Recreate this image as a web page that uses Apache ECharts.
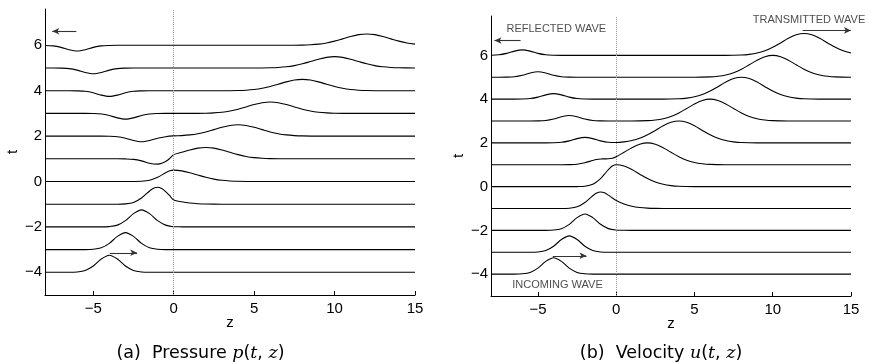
<!DOCTYPE html>
<html><head><meta charset="utf-8">
<script src="https://cdn.jsdelivr.net/npm/echarts@6/dist/echarts.min.js"></script>
<style>html,body{margin:0;padding:0;background:#fff}#c{width:869px;height:362px}</style>
</head><body><div id="c"></div>
<script>
// time levels of the stacked curves (baseline of each curve)
const times = [-4, -3, -2, -1, 0, 1, 2, 3, 4, 5, 6];
const xTicks = [-5, 0, 5, 10, 15];
const yTicks = [-4, -2, 0, 2, 4, 6];

// pressure p(t,z): [z, offset above the baseline t], one list per time level
const pressureCurves = [
  [[-8,0],[-6.5,0],[-6,0.014],[-5.5,0.079],[-5,0.276],[-4.5,0.584],[-4,0.75],[-3.5,0.584],[-3,0.276],[-2.5,0.079],[-2,0.014],[-1.5,0],[15,0]],
  [[-8,0],[-5.5,0],[-5,0.014],[-4.5,0.079],[-4,0.276],[-3.5,0.584],[-3,0.75],[-2.5,0.584],[-2,0.276],[-1.5,0.079],[-1,0.014],[-0.5,0],[15,0]],
  [[-8,0],[-4.5,0],[-4,0.014],[-3.5,0.079],[-3,0.276],[-2.5,0.584],[-2,0.75],[-1.5,0.584],[-1,0.276],[-0.5,0.079],[0,0.009],[0.5,0.003],[1,0],[15,0]],
  [[-8,0],[-3.5,0],[-3,0.014],[-2.5,0.079],[-2,0.276],[-1.5,0.583],[-1.25,0.703],[-1,0.745],[-0.75,0.693],[-0.5,0.558],[-0.25,0.375],[0,0.184],[0.5,0.105],[1,0.053],[1.5,0.023],[2,0.009],[3,0.001],[4,0],[15,0]],
  [[-8,0],[-3,0],[-2.5,0.001],[-2,0.009],[-1.5,0.053],[-1,0.184],[-0.5,0.389],[-0.25,0.470],[0,0.5],[0.5,0.470],[1,0.389],[1.5,0.285],[2,0.184],[2.5,0.105],[3,0.053],[3.5,0.023],[4,0.009],[5,0],[15,0]],
  [[-8,0],[-3.5,0],[-3,-0.005],[-2.5,-0.026],[-2,-0.092],[-1.5,-0.194],[-1.25,-0.230],[-1,-0.236],[-0.75,-0.200],[-0.5,-0.116],[-0.25,0.015],[0,0.184],[0.5,0.285],[1,0.389],[1.5,0.470],[2,0.5],[2.5,0.470],[3,0.389],[3.5,0.285],[4,0.184],[4.5,0.105],[5,0.053],[5.5,0.023],[6,0.009],[7,0],[15,0]],
  [[-8,0],[-4.5,0],[-4,-0.005],[-3.5,-0.026],[-3,-0.092],[-2.5,-0.195],[-2,-0.25],[-1.5,-0.195],[-1,-0.092],[-0.5,-0.025],[0,0.009],[0.5,0.023],[1,0.053],[1.5,0.105],[2,0.184],[2.5,0.285],[3,0.389],[3.5,0.470],[4,0.5],[4.5,0.470],[5,0.389],[5.5,0.285],[6,0.184],[6.5,0.105],[7,0.053],[7.5,0.023],[8,0.009],[9,0],[15,0]],
  [[-8,0],[-5.5,0],[-5,-0.005],[-4.5,-0.026],[-4,-0.092],[-3.5,-0.195],[-3,-0.25],[-2.5,-0.195],[-2,-0.092],[-1.5,-0.026],[-1,-0.005],[-0.5,0],[1,0],[2,0.009],[2.5,0.023],[3,0.053],[3.5,0.105],[4,0.184],[4.5,0.285],[5,0.389],[5.5,0.470],[6,0.5],[6.5,0.470],[7,0.389],[7.5,0.285],[8,0.184],[8.5,0.105],[9,0.053],[9.5,0.023],[10,0.009],[11,0],[15,0]],
  [[-8,0],[-6.5,0],[-6,-0.005],[-5.5,-0.026],[-5,-0.092],[-4.5,-0.195],[-4,-0.25],[-3.5,-0.195],[-3,-0.092],[-2.5,-0.026],[-2,-0.005],[-1.5,0],[3,0],[4,0.009],[4.5,0.023],[5,0.053],[5.5,0.105],[6,0.184],[6.5,0.285],[7,0.389],[7.5,0.470],[8,0.5],[8.5,0.470],[9,0.389],[9.5,0.285],[10,0.184],[10.5,0.105],[11,0.053],[11.5,0.023],[12,0.009],[13,0],[15,0]],
  [[-8,0],[-7.5,0],[-7,-0.005],[-6.5,-0.026],[-6,-0.092],[-5.5,-0.195],[-5,-0.25],[-4.5,-0.195],[-4,-0.092],[-3.5,-0.026],[-3,-0.005],[-2.5,0],[5,0],[6,0.009],[6.5,0.023],[7,0.053],[7.5,0.105],[8,0.184],[8.5,0.285],[9,0.389],[9.5,0.470],[10,0.5],[10.5,0.470],[11,0.389],[11.5,0.285],[12,0.184],[12.5,0.105],[13,0.053],[13.5,0.023],[14,0.009],[15,0.001]],
  [[-8,-0.005],[-7.5,-0.026],[-7,-0.092],[-6.5,-0.195],[-6,-0.25],[-5.5,-0.195],[-5,-0.092],[-4.5,-0.026],[-4,-0.005],[-3.5,0],[7,0],[8,0.009],[8.5,0.023],[9,0.053],[9.5,0.105],[10,0.184],[10.5,0.285],[11,0.389],[11.5,0.470],[12,0.5],[12.5,0.470],[13,0.389],[13.5,0.285],[14,0.184],[14.5,0.105],[15,0.053]]
];

// velocity u(t,z): [z, offset above the baseline t]
const velocityCurves = [
  [[-8,0],[-6.5,0],[-6,0.014],[-5.5,0.079],[-5,0.276],[-4.5,0.584],[-4,0.75],[-3.5,0.584],[-3,0.276],[-2.5,0.079],[-2,0.014],[-1.5,0],[15,0]],
  [[-8,0],[-5.5,0],[-5,0.014],[-4.5,0.079],[-4,0.276],[-3.5,0.584],[-3,0.75],[-2.5,0.584],[-2,0.276],[-1.5,0.079],[-1,0.014],[-0.5,0],[15,0]],
  [[-8,0],[-4.5,0],[-4,0.014],[-3.5,0.079],[-3,0.276],[-2.5,0.584],[-2,0.75],[-1.5,0.584],[-1,0.277],[-0.5,0.080],[0,0.018],[0.5,0.006],[1,0.002],[2,0],[15,0]],
  [[-8,0],[-3.5,0],[-3,0.014],[-2.5,0.079],[-2,0.276],[-1.5,0.585],[-1.25,0.707],[-1,0.755],[-0.75,0.717],[-0.5,0.610],[-0.25,0.479],[0,0.368],[0.5,0.210],[1,0.105],[1.5,0.047],[2,0.018],[2.5,0.006],[3,0.002],[4,0],[15,0]],
  [[-8,0],[-3,0],[-2.5,0.002],[-2,0.018],[-1.5,0.105],[-1,0.368],[-0.75,0.570],[-0.5,0.779],[-0.25,0.939],[0,1],[0.5,0.939],[1,0.779],[1.5,0.570],[2,0.368],[2.5,0.210],[3,0.105],[3.5,0.047],[4,0.018],[5,0.002],[6,0],[15,0]],
  [[-8,0],[-3.5,0],[-3,0.005],[-2.5,0.026],[-2,0.092],[-1.5,0.196],[-1.25,0.240],[-1,0.264],[-0.75,0.270],[-0.5,0.274],[-0.25,0.299],[0,0.368],[0.5,0.570],[1,0.779],[1.5,0.939],[2,1],[2.5,0.939],[3,0.779],[3.5,0.570],[4,0.368],[4.5,0.210],[5,0.105],[5.5,0.047],[6,0.018],[7,0.002],[8,0],[15,0]],
  [[-8,0],[-4.5,0],[-4,0.005],[-3.5,0.026],[-3,0.092],[-2.5,0.195],[-2,0.25],[-1.5,0.195],[-1,0.092],[-0.5,0.027],[0,0.018],[0.5,0.047],[1,0.105],[1.5,0.210],[2,0.368],[2.5,0.570],[3,0.779],[3.5,0.939],[4,1],[4.5,0.939],[5,0.779],[5.5,0.570],[6,0.368],[6.5,0.210],[7,0.105],[7.5,0.047],[8,0.018],[9,0.002],[10,0],[15,0]],
  [[-8,0],[-5.5,0],[-5,0.005],[-4.5,0.026],[-4,0.092],[-3.5,0.195],[-3,0.25],[-2.5,0.195],[-2,0.092],[-1.5,0.026],[-1,0.005],[-0.5,0],[1,0],[2,0.018],[2.5,0.047],[3,0.105],[3.5,0.210],[4,0.368],[4.5,0.570],[5,0.779],[5.5,0.939],[6,1],[6.5,0.939],[7,0.779],[7.5,0.570],[8,0.368],[8.5,0.210],[9,0.105],[9.5,0.047],[10,0.018],[11,0.002],[12,0],[15,0]],
  [[-8,0],[-6.5,0],[-6,0.005],[-5.5,0.026],[-5,0.092],[-4.5,0.195],[-4,0.25],[-3.5,0.195],[-3,0.092],[-2.5,0.026],[-2,0.005],[-1.5,0],[3,0],[4,0.018],[4.5,0.047],[5,0.105],[5.5,0.210],[6,0.368],[6.5,0.570],[7,0.779],[7.5,0.939],[8,1],[8.5,0.939],[9,0.779],[9.5,0.570],[10,0.368],[10.5,0.210],[11,0.105],[11.5,0.047],[12,0.018],[13,0.002],[14,0],[15,0]],
  [[-8,0],[-7.5,0],[-7,0.005],[-6.5,0.026],[-6,0.092],[-5.5,0.195],[-5,0.25],[-4.5,0.195],[-4,0.092],[-3.5,0.026],[-3,0.005],[-2.5,0],[5,0],[6,0.018],[6.5,0.047],[7,0.105],[7.5,0.210],[8,0.368],[8.5,0.570],[9,0.779],[9.5,0.939],[10,1],[10.5,0.939],[11,0.779],[11.5,0.570],[12,0.368],[12.5,0.210],[13,0.105],[13.5,0.047],[14,0.018],[15,0.002]],
  [[-8,0.005],[-7.5,0.026],[-7,0.092],[-6.5,0.195],[-6,0.25],[-5.5,0.195],[-5,0.092],[-4.5,0.026],[-4,0.005],[-3.5,0],[7,0],[8,0.018],[8.5,0.047],[9,0.105],[9.5,0.210],[10,0.368],[10.5,0.570],[11,0.779],[11.5,0.939],[12,1],[12.5,0.939],[13,0.779],[13.5,0.570],[14,0.368],[14.5,0.210],[15,0.105]]
];

// annotation arrows: [from, to] in data coordinates
const pressureArrows = [[[-6.05, 6.62], [-7.55, 6.62]], [[12.0, 7.0], [15.35, 7.0]], [[-3.97, -3.14], [-2.27, -3.14]]];
const velocityArrows = [[[-6.11, 6.68], [-7.78, 6.68]], [[11.9, 7.14], [15.0, 7.14]], [[-4.05, -3.16], [-1.9, -3.16]]];
const velocityLabels = [['REFLECTED WAVE', -3.83, 7.22], ['TRANSMITTED WAVE', 12.32, 7.63], ['INCOMING WAVE', -3.75, -4.5]];
const yMax = [7.6, 7.8];
const captions = ['(a)  Pressure {i|p}({i|t}, {i|z})', '(b)  Velocity {i|u}({i|t}, {i|z})'];

const FONT = '"Liberation Sans", Arial, Helvetica, sans-serif';
const minus = v => String(v).replace('-', '\u2212');

const chart = echarts.init(document.getElementById('c'), null, {renderer: 'canvas'});
const grids = [{left: 45, top: 9, width: 370, height: 286}, {left: 491, top: 16, width: 360, height: 280}];

function xAxisFor(i) {
  return {
    type: 'value', gridIndex: i, min: -8, max: 15,
    axisLine: {show: true, onZero: false, lineStyle: {color: '#000', width: 1}},
    axisTick: {show: true, inside: true, length: 4, customValues: xTicks, lineStyle: {color: '#000', width: 1}},
    axisLabel: {customValues: xTicks, fontSize: 15, color: '#000', margin: 6, fontFamily: FONT, formatter: minus},
    splitLine: {show: false},
    name: 'z', nameLocation: 'middle', nameGap: 20, nameMoveOverlap: false,
    nameTextStyle: {fontSize: 15, color: '#000', fontFamily: FONT}
  };
}
function yAxisFor(i) {
  return {
    type: 'value', gridIndex: i, min: -5, max: yMax[i],
    axisLine: {show: true, onZero: false, lineStyle: {color: '#000', width: 1}},
    axisTick: {show: false},
    axisLabel: {customValues: yTicks, fontSize: 15, color: '#000', margin: 3, fontFamily: FONT, formatter: minus},
    splitLine: {show: false},
    name: 't', nameLocation: 'middle', nameGap: 25, nameMoveOverlap: false,
    nameTextStyle: {fontSize: 15, color: '#000', fontFamily: FONT}
  };
}

const series = [];
[pressureCurves, velocityCurves].forEach((curves, k) => {
  curves.forEach((pts, i) => {
    series.push({
      type: 'line', xAxisIndex: k, yAxisIndex: k, silent: true,
      data: pts.map(p => [p[0], times[i] + p[1]]),
      smooth: 0.3, symbol: 'none',
      lineStyle: {color: '#000', width: 1.1}, z: 3
    });
  });
});
// dotted interface line at z = 0 and arrows
[pressureArrows, velocityArrows].forEach((arrows, k) => {
  series.push({
    type: 'line', xAxisIndex: k, yAxisIndex: k, data: [], silent: true, clip: false,
    markLine: {
      silent: true, symbol: ['none', 'none'], label: {show: false},
      lineStyle: {type: 'dotted', color: '#999', width: 1},
      data: [{xAxis: 0}]
    }
  });
  series.push({
    type: 'line', xAxisIndex: k, yAxisIndex: k, data: [], silent: true, clip: false,
    markLine: {
      silent: true, symbol: ['none', 'arrow'], symbolSize: [5, 7], label: {show: false},
      lineStyle: {type: 'solid', color: '#333', width: 1.1},
      data: arrows.map(a => [{coord: a[0]}, {coord: a[1]}])
    }
  });
});
series.push({
  type: 'scatter', xAxisIndex: 1, yAxisIndex: 1, silent: true, clip: false,
  symbolSize: 0, itemStyle: {color: 'rgba(0,0,0,0)'},
  data: velocityLabels.map(l => ({name: l[0], value: [l[1], l[2]]})),
  label: {show: true, position: 'inside', formatter: '{b}', fontSize: 11, color: '#222', fontFamily: FONT}
});

const capCenters = [200.5, 661];
const graphic = captions.map((t, i) => ({
  type: 'text', x: capCenters[i], y: 353,
  style: {
    text: t, align: 'center', verticalAlign: 'middle', fill: '#000',
    fontSize: 17.5, fontFamily: '"DejaVu Sans", sans-serif',
    rich: {i: {fontStyle: 'italic', fontSize: 17.5, fontFamily: '"DejaVu Serif", serif'}}
  }
}));

chart.setOption({
  animation: false,
  backgroundColor: '#fff',
  grid: grids,
  xAxis: [xAxisFor(0), xAxisFor(1)],
  yAxis: [yAxisFor(0), yAxisFor(1)],
  series: series,
  graphic: graphic
});
</script></body></html>
